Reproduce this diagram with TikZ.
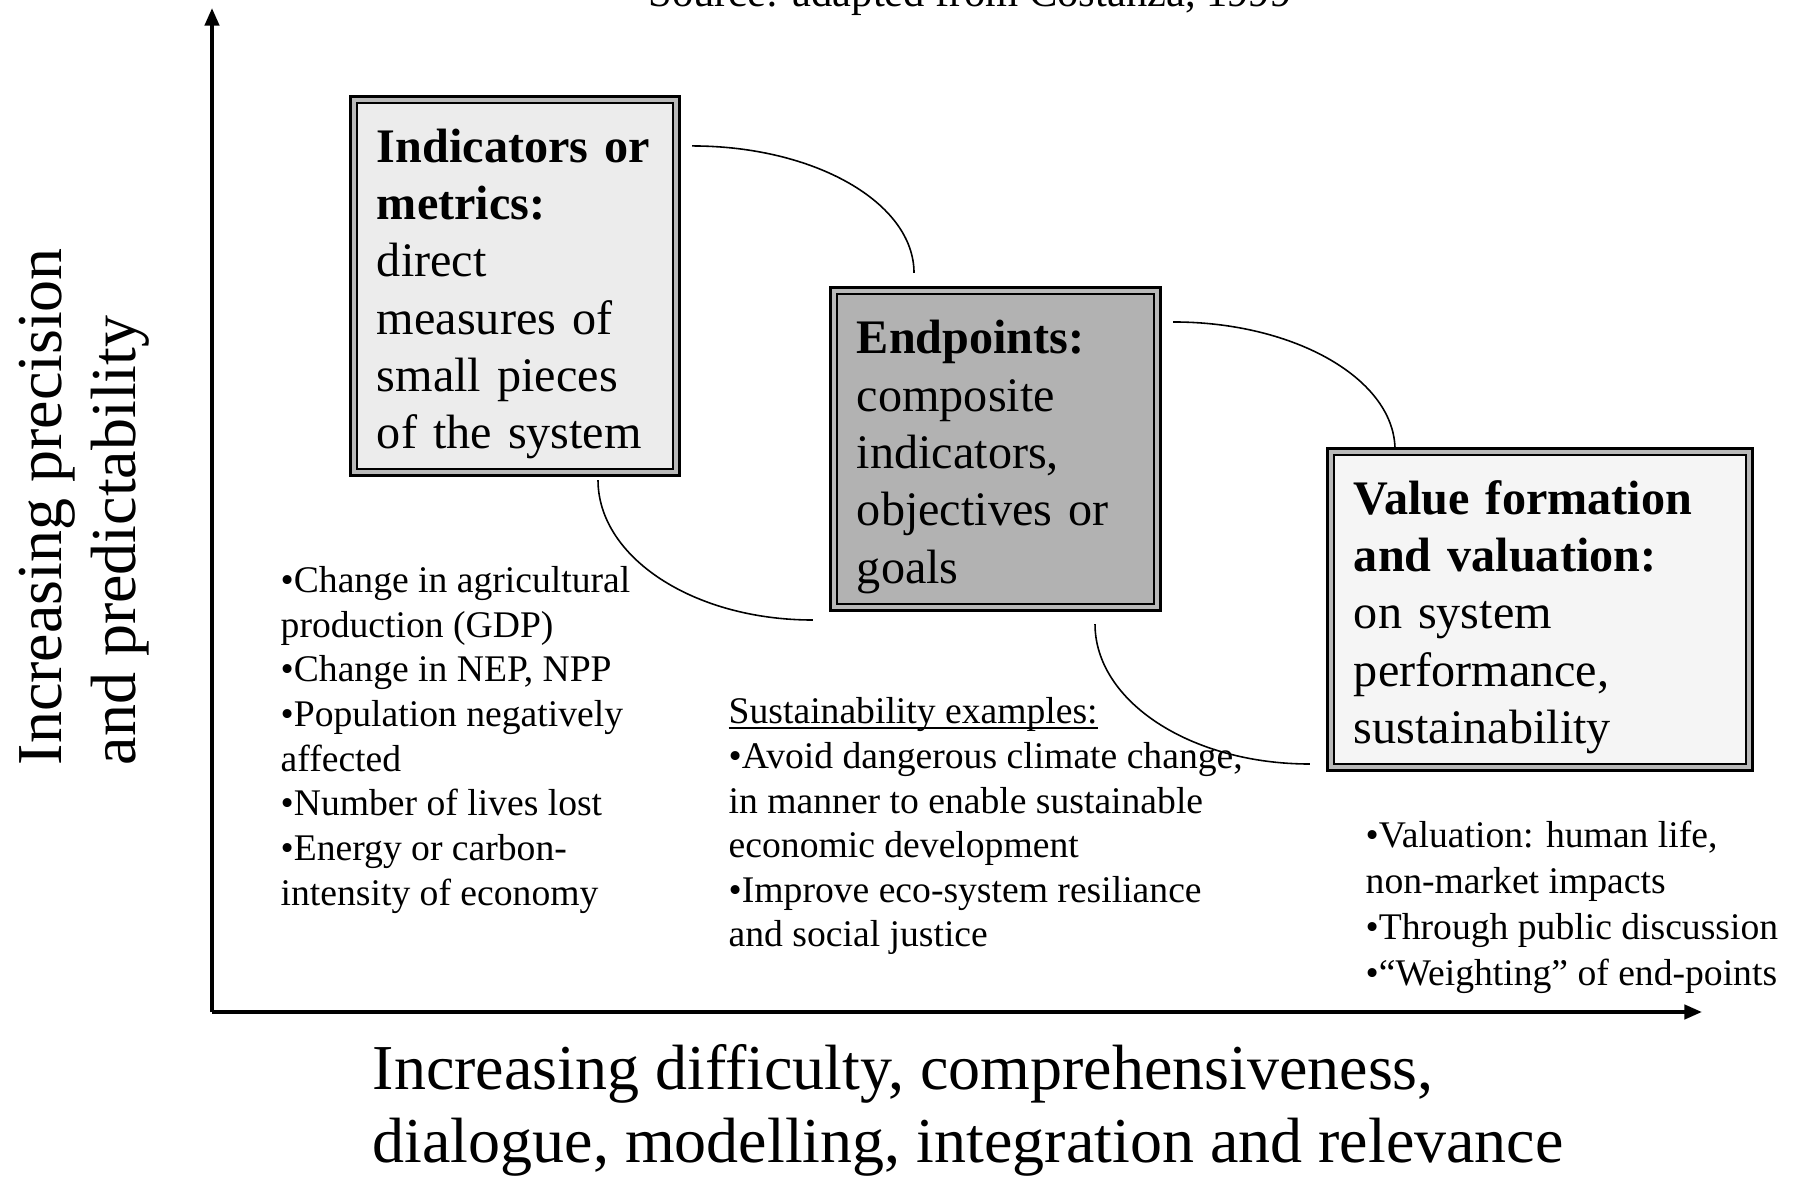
\documentclass[tikz,border=0pt]{standalone}
\usepackage{fontspec}
\setmainfont{Liberation Serif}
\usetikzlibrary{arrows.meta}

% underline set close to the baseline
\newcommand{\lowline}[1]{\setbox0\hbox{#1}\rlap{\rule[-1.5pt]{\wd0}{0.45pt}}#1}

\tikzset{
  axis/.style={line width=1.1pt, -{Triangle[length=5pt,width=4pt]}},
  stage/.style={draw, line width=1.1pt, align=left, inner xsep=0.26cm,
    font=\fontsize{13.7}{16.3}\selectfont, execute at begin node={\rule{0pt}{14pt}}},
  listtext/.style={align=left, inner sep=0pt, anchor=base west,
    font=\fontsize{10.7}{12.7}\selectfont},
  link/.style={line width=0.45pt},
}

\begin{document}
\begin{tikzpicture}[x=0.01cm, y=0.01cm]
    \useasboundingbox (0,0) rectangle (1795,1179);

    % Source line (cut off at the top)
    \node[anchor=base, font=\fontsize{12.1}{14}\selectfont] (src) at (970,1172) {Source: adapted from Costanza, 1999};

    % Axes
    \coordinate (origin) at (212,167);
    \coordinate (ytop) at (212,1171);
    \coordinate (xend) at (1702,167);
    \draw[axis] (origin) -- (ytop);
    \draw[axis] (origin) -- (xend);

    % Axis labels (anchored at the last line)
    \node[rotate=90, anchor=base west, align=left, inner sep=0pt, font=\fontsize{18.2}{21}\selectfont] (ylab) at (135,413)
        {Increasing precision\\ and predictability};
    \node[anchor=base west, align=left, inner sep=0pt, font=\fontsize{18.2}{20.5}\selectfont] (xlab) at (372,17)
        {Increasing difficulty, comprehensiveness,\\ dialogue, modelling, integration and relevance};

    % The three boxes
    \node[stage, fill=gray!15, text width=2.76cm, minimum height=3.78cm] (ind) at (515,893)
        {\textbf{Indicators or}\\ \textbf{metrics:}\\ direct\\ measures of\\ small pieces\\ of the system};
    \node[stage, fill=gray!60, text width=2.77cm, minimum height=3.22cm] (end) at (995.5,730)
        {\textbf{Endpoints:}\\ composite\\ indicators,\\ objectives or\\ goals};
    \node[stage, fill=gray!8, text width=3.72cm, minimum height=3.21cm] (val) at (1540,569.5)
        {\textbf{Value formation}\\ \textbf{and valuation:}\\ on system\\ performance,\\ sustainability};

    % Inner frame lines
    \foreach \b in {ind,end,val} {
        \draw[gray!55, line width=1.3pt] ([shift={(5,-5)}]\b.north west) rectangle ([shift={(-5,5)}]\b.south east);
        \draw[line width=0.4pt] ([shift={(8,-8)}]\b.north west) rectangle ([shift={(-8,8)}]\b.south east);
    }

    % Curved links between the boxes
    \draw[link] ([shift={(11,-51)}]ind.north east) .. controls +(123,0) and +(0,70) .. ([shift={(-81.5,13)}]end.north);
    \draw[link] ([shift={(83,-3)}]ind.south) .. controls +(0,-77) and +(-120,0) .. ([shift={(-16,-8)}]end.south west);
    \draw[link] ([shift={(11,-36)}]end.north east) .. controls +(123,0) and +(0,70) .. ([shift={(-145,-3)}]val.north);
    \draw[link] ([shift={(99.5,-12)}]end.south) .. controls +(0,-77) and +(-120,0) .. ([shift={(-16,8)}]val.south west);

    % Example lists (anchored at the last line)
    \node[listtext] (indlist) at (280,274)
        {•Change in agricultural\\ production (GDP)\\ •Change in NEP, NPP\\ •Population negatively\\ affected\\ •Number of lives lost\\ •Energy or carbon-\\ intensity of economy};
    \node[listtext] (endlist) at (728,232)
        {\lowline{Sustainability examples:}\\ •Avoid dangerous climate change,\\ in manner to enable sustainable\\ economic development\\ •Improve eco-system resiliance\\ and social justice};
    \node[listtext, font=\fontsize{10.7}{13}\selectfont] (vallist) at (1365,194)
        {•Valuation: human life,\\ non-market impacts\\ •Through public discussion\\ •“Weighting” of end-points};
\end{tikzpicture}
\end{document}
